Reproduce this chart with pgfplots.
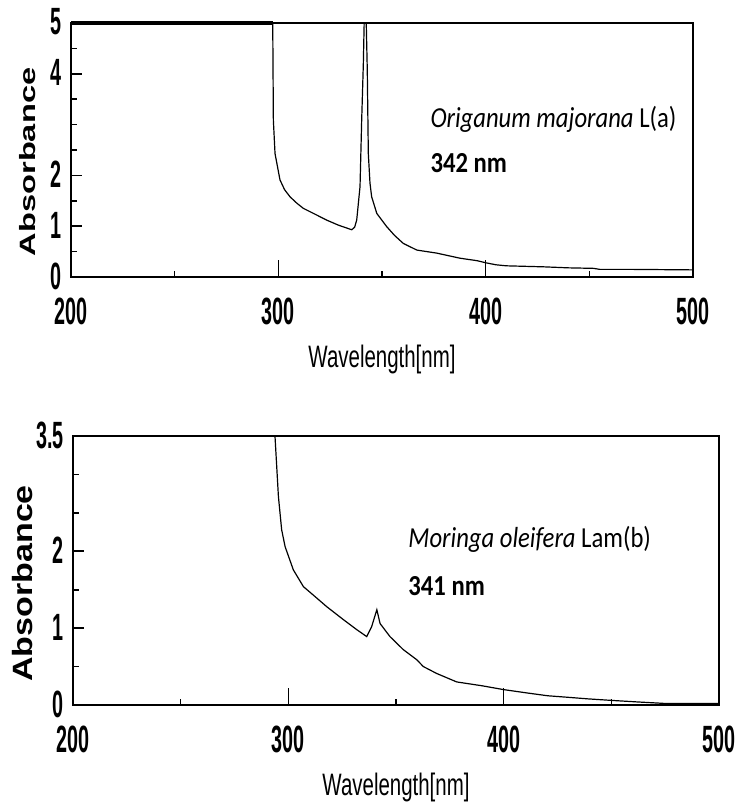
\documentclass[border=0pt]{standalone}
\usepackage{fontspec}
\usepackage{graphicx}
\usepackage{pgfplots}
\usepackage{pgfplotstable}
\pgfplotsset{compat=1.18}
\setmainfont{Liberation Sans}
\newfontfamily\tickfont[FakeStretch=0.52]{Liberation Sans}
\newfontfamily\labfont[FakeStretch=0.66]{Liberation Sans}
\newfontfamily\calfont[FakeStretch=0.85]{Carlito}

\pgfplotstableread{
x y
200 5
297.3 5
297.6 3.09
298.4 2.43
300.8 1.91
303 1.72
305.6 1.58
309 1.45
312.1 1.35
318 1.23
323.3 1.12
329 1.02
335.4 0.93
336.8 0.98
337.8 1.12
339.4 1.78
340.2 3.09
341 4.2
341.4 5
342.4 5
342.9 4.07
343.4 2.43
344.2 1.85
345 1.58
347.5 1.25
352.3 0.99
356 0.82
360.3 0.66
366.8 0.53
376.4 0.47
387.6 0.37
396 0.32
400 0.28
405 0.24
410 0.22
428 0.2
440 0.18
452 0.17
455 0.15
470 0.15
500 0.14
}\dataA

\pgfplotstableread{
x y
293.8 3.5
295.4 2.71
296.9 2.28
298.5 2.06
302.3 1.76
307 1.54
311.6 1.43
317.8 1.28
325.6 1.11
331.8 0.98
336.4 0.89
338.7 1.02
341.1 1.24
342.6 1.06
347.2 0.89
353.4 0.72
359.6 0.59
362.7 0.5
368.9 0.41
378.2 0.30
390 0.25
400 0.2
410 0.16
420.5 0.12
430 0.1
439 0.08
450 0.06
462 0.04
475 0.02
500 0.02
}\dataB

\pgfplotsset{
  spec/.style={
    scale only axis, anchor=south west,
    xmin=200, xmax=500,
    axis line style={line width=1pt},
    tick align=inside,
    xtick pos=bottom, ytick pos=left,
    xtick={200,300,400,500},
    minor xtick={250,350,450},
    extra x ticks={300,400},
    extra x tick labels={},
    extra x tick style={major tick length=8.5pt},
    major tick length=5.5pt, minor tick length=3pt,
    every tick/.style={line width=0.8pt, black},
    /pgf/number format/assume math mode=true,
    tick label style={font=\fontsize{19}{19}\selectfont\tickfont\bfseries, inner sep=0pt},
    xticklabel style={anchor=north, yshift=-10.5pt},
    yticklabel style={anchor=east, xshift=-4.5pt, yshift=0.5pt},
    xlabel={Wavelength[nm]},
    xlabel style={at={(axis description cs:0.5,0)}, anchor=north, inner sep=0pt, yshift=-34pt, font=\fontsize{15.5}{15.5}\selectfont\labfont},
    clip=false,
  }
}

\begin{document}
\begin{tikzpicture}
\useasboundingbox (0,0) rectangle (368.5pt,401.5pt);

\begin{axis}[spec, at={(35.5pt,263pt)}, width=311pt, height=127pt,
  ymin=0, ymax=5,
  ytick={0,1,2,4,5},
  minor ytick={0.5,1.5,2.5,3,3.5,4.5},
  ylabel={\scalebox{1}[0.68]{\fontsize{16.3}{16.3}\selectfont\bfseries Absorbance}},
  ylabel style={at={(axis description cs:-0.07,0.453)}, anchor=center, rotate=0, inner sep=0pt},
]
\addplot[black, line width=0.6pt] table[x=x, y=y] {\dataA};
\draw[line width=1.6pt] (axis cs:200,5) -- (axis cs:297.3,5);
\node[anchor=base west, inner sep=0pt, font=\fontsize{14.5}{14.5}\selectfont\calfont] at (axis cs:373.2,2.95) {{\itshape Origanum majorana} L(a)};
\node[anchor=base west, inner sep=0pt, font=\fontsize{14.5}{14.5}\selectfont\calfont\bfseries] at (axis cs:373.2,2.05) {342 nm};
\end{axis}

\begin{axis}[spec, at={(36.5pt,49pt)}, width=323pt, height=134.5pt,
  ymin=0, ymax=3.5,
  ytick={0,1,2,3.5},
  yticklabels={0,1,2,3.5},
  minor ytick={0.5,1.5,2.5,3},
  ylabel={\scalebox{1}[0.82]{\fontsize{17}{17}\selectfont\bfseries Absorbance}},
  ylabel style={at={(axis description cs:-0.078,0.452)}, anchor=center, rotate=0, inner sep=0pt},
]
\addplot[black, line width=0.6pt] table[x=x, y=y] {\dataB};
\node[anchor=base west, inner sep=0pt, font=\fontsize{14.5}{14.5}\selectfont\calfont] at (axis cs:355.6,2.05) {{\itshape Moringa oleifera} Lam(b)};
\node[anchor=base west, inner sep=0pt, font=\fontsize{14.5}{14.5}\selectfont\calfont\bfseries] at (axis cs:355.6,1.43) {341 nm};
\end{axis}
\end{tikzpicture}
\end{document}
